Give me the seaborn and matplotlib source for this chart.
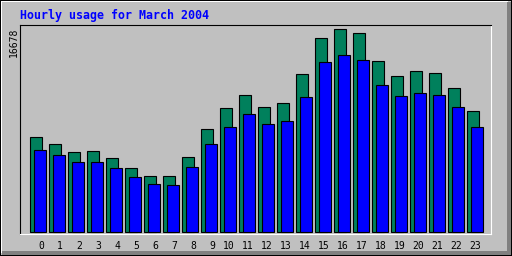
import numpy as np
import pandas as pd
import matplotlib
matplotlib.use("Agg")
import matplotlib.pyplot as plt
from matplotlib.patches import Rectangle
import seaborn as sns

hours = list(range(24))
hour_labels = [str(h) for h in hours]
hits = [7805, 7230, 6573, 6655, 6080, 5258, 4601, 4601, 6162, 8462, 10188, 11256,
        10270, 10599, 12981, 15939, 16678, 16350, 14049, 12817, 13228, 13063, 11831, 9941]
files = [6737, 6326, 5751, 5751, 5258, 4519, 3944, 3862, 5340, 7230, 8627, 9695,
         8873, 9120, 11092, 13967, 14542, 14132, 12077, 11174, 11420, 11256, 10270, 8627]
max_label = "16678"
title = "Hourly usage for March 2004"

W, H = 512, 256
BG = "#C0C0C0"
fig = plt.figure(figsize=(W / 100, H / 100), dpi=100, facecolor=BG)


def rect(x0, y0, x1, y1, color):
    fig.add_artist(Rectangle((x0 / W, 1 - y1 / H), (x1 - x0) / W, (y1 - y0) / H,
                             transform=fig.transFigure, facecolor=color, lw=0,
                             antialiased=False))


# outer frame
rect(0, 0, 512, 1, "black")
rect(0, 255, 512, 256, "black")
rect(0, 0, 1, 256, "black")
rect(511, 0, 512, 256, "black")
rect(1, 1, 508, 2, "white")
rect(1, 1, 2, 253, "white")
rect(507, 2, 511, 255, "#808080")
rect(2, 251, 511, 255, "#808080")

ax = fig.add_axes([20 / W, 1 - 234 / H, 471 / W, 209 / H])
ax.set_facecolor(BG)

df_hits = pd.DataFrame({"hour": np.array(hours, dtype=float), "value": hits})
df_files = pd.DataFrame({"hour": np.array(hours, dtype=float) + 0.21, "value": files})

sns.barplot(data=df_hits, x="hour", y="value", native_scale=True, width=0.58,
            color="#00805C", saturation=1, edgecolor="black", linewidth=0.8,
            errorbar=None, ax=ax)
sns.barplot(data=df_files, x="hour", y="value", native_scale=True, width=0.58,
            color="#0000FF", saturation=1, edgecolor="black", linewidth=0.8,
            errorbar=None, ax=ax)

ax.set_xlim(-16 / 19, 455 / 19)
ax.set_ylim(-140, 17032)
ax.set_xlabel("")
ax.set_ylabel("")
ax.set_yticks([])
ax.set_xticks(np.array(hours) + 0.43)
ax.set_xticklabels(hour_labels, ha="right", fontsize=7, family="DejaVu Sans Mono")
ax.tick_params(axis="x", length=0, pad=5)
for s in ["left", "top"]:
    ax.spines[s].set_color("black")
    ax.spines[s].set_linewidth(0.8)
for s in ["right", "bottom"]:
    ax.spines[s].set_color("white")
    ax.spines[s].set_linewidth(0.8)

fig.text(20 / W, 1 - 19 / H, title, color="#0000FF", fontsize=8.4, fontweight="bold",
         family="DejaVu Sans Mono", ha="left", va="baseline")
fig.text(14 / W, 1 - 28 / H, max_label, rotation=90, fontsize=7,
         family="DejaVu Sans Mono", ha="center", va="top")

fig.savefig("out.png", dpi=100, facecolor=BG)
